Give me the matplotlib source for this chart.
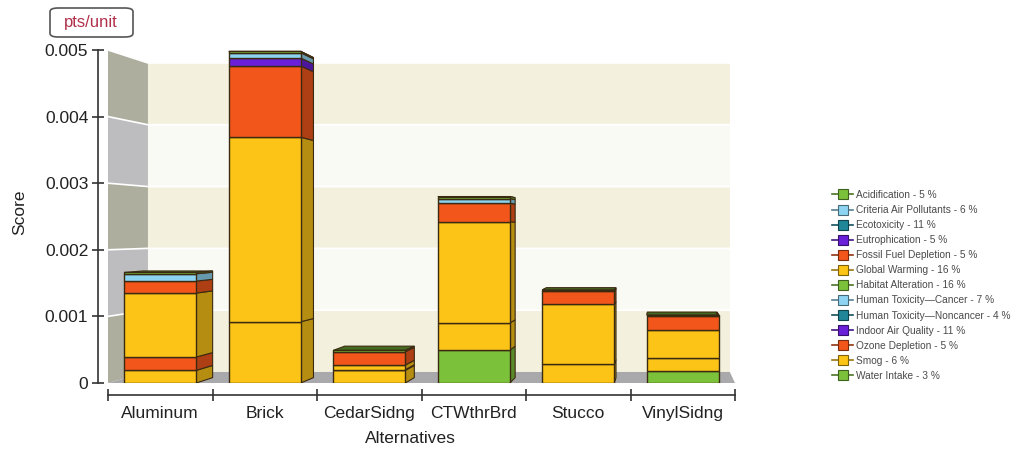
import matplotlib
matplotlib.use('Agg')
import matplotlib.pyplot as plt
from matplotlib.patches import Polygon, FancyBboxPatch
from matplotlib.lines import Line2D
from matplotlib.colors import to_rgb

plt.rcParams['font.family'] = ['Liberation Sans', 'DejaVu Sans']

alternatives = ['Aluminum', 'Brick', 'CedarSidng', 'CTWthrBrd', 'Stucco', 'VinylSidng']

# impact categories in legend order, with their weights (%)
categories = ['Acidification', 'Criteria Air Pollutants', 'Ecotoxicity', 'Eutrophication',
              'Fossil Fuel Depletion', 'Global Warming', 'Habitat Alteration',
              'Human Toxicity\u2014Cancer', 'Human Toxicity\u2014Noncancer',
              'Indoor Air Quality', 'Ozone Depletion', 'Smog', 'Water Intake']
weights = [5, 6, 11, 5, 5, 16, 16, 7, 4, 11, 5, 6, 3]
colors = ['#7cc13a', '#8dd4f2', '#1f8798', '#6a1fd8', '#f2561a', '#fcc416', '#7cc13a',
          '#8dd4f2', '#1f8798', '#6a1fd8', '#f2561a', '#fcc416', '#7cc13a']

# weighted scores per alternative, pts/unit
acidification = [0.00002, 0.00002, 0.00002, 0.00003, 0.00002, 0.00002]
criteria_air = [0.00011, 0.00008, 0.0, 0.00007, 0.0, 0.0]
ecotoxicity = [0.0, 0.0, 0.0, 0.0, 0.0, 0.0]
eutrophication = [0.0, 0.00012, 0.0, 0.0, 0.0, 0.0]
fossil_fuel = [0.00018, 0.00107, 0.00020, 0.00028, 0.00020, 0.00020]
global_warming = [0.00096, 0.00277, 0.00007, 0.00152, 0.00090, 0.00042]
habitat = [0.0, 0.0, 0.0, 0.0, 0.0, 0.0]
ht_cancer = [0.0, 0.0, 0.0, 0.0, 0.0, 0.0]
ht_noncancer = [0.0, 0.0, 0.0, 0.0, 0.0, 0.0]
indoor_air = [0.0, 0.0, 0.0, 0.0, 0.0, 0.0]
ozone = [0.00020, 0.0, 0.00001, 0.0, 0.0, 0.0]
smog = [0.00019, 0.00092, 0.00019, 0.00041, 0.00028, 0.00020]
water = [0.0, 0.0, 0.0, 0.00049, 0.0, 0.00018]

series = [acidification, criteria_air, ecotoxicity, eutrophication, fossil_fuel,
          global_warming, habitat, ht_cancer, ht_noncancer, indoor_air, ozone, smog, water]

yticks = [0, 0.001, 0.002, 0.003, 0.004, 0.005]
ytick_labels = ['0', '0.001', '0.002', '0.003', '0.004', '0.005']

W, H = 1015, 450
fig = plt.figure(figsize=(W / 100, H / 100), dpi=100)
ax = fig.add_axes([108 / W, 67 / H, 627 / W, 333 / H])
ax.set_xlim(-0.5, len(alternatives) - 0.5)
ax.set_ylim(0, 0.005)
ax.patch.set_visible(False)

# simple perspective: points pulled toward a vanishing point
vp = (4.81, 0.0023)
wall_s = 0.928
bar_s = 0.965


def proj(x, y, s):
    return (vp[0] + (x - vp[0]) * s, vp[1] + (y - vp[1]) * s)


def shade(c, f):
    r, g, b = to_rgb(c)
    return (r * f, g * f, b * f)


x0, x1 = -0.5, len(alternatives) - 0.5
band_back = ['#f3f1dd', '#fafaf5']
band_side = ['#aeae9f', '#bdbdc0']
for k in range(len(yticks) - 1):
    ya, yb = yticks[k], yticks[k + 1]
    back = [proj(x0, ya, wall_s), proj(x1, ya, wall_s), proj(x1, yb, wall_s), proj(x0, yb, wall_s)]
    ax.add_patch(Polygon(back, closed=True, fc=band_back[k % 2], ec='none', zorder=0))
    side = [(x0, ya), (x0, yb), proj(x0, yb, wall_s), proj(x0, ya, wall_s)]
    ax.add_patch(Polygon(side, closed=True, fc=band_side[k % 2], ec='none', zorder=0))
for yv in yticks[1:]:
    pa, pb, pc = (x0, yv), proj(x0, yv, wall_s), proj(x1, yv, wall_s)
    ax.plot([pa[0], pb[0], pc[0]], [pa[1], pb[1], pc[1]], color='white', lw=1.2,
            zorder=0.5, clip_on=False)

floor = [(x0, 0), (x1, 0), proj(x1, 0, wall_s), proj(x0, 0, wall_s)]
ax.add_patch(Polygon(floor, closed=True, fc='#a9a9ab', ec='none', zorder=1))

# stacked 3D bars, last legend entry at the bottom
width = 0.69
edge = '#3b2a12'
bottoms = [0.0] * len(alternatives)
top_color = [None] * len(alternatives)
for vals, col in zip(series[::-1], colors[::-1]):
    for i, v in enumerate(vals):
        if v <= 0:
            continue
        b = bottoms[i]
        xr = i + width / 2
        ax.bar(i, v, bottom=b, width=width, color=col, edgecolor=edge, linewidth=1.0, zorder=3)
        face = [(xr, b), (xr, b + v), proj(xr, b + v, bar_s), proj(xr, b, bar_s)]
        ax.add_patch(Polygon(face, closed=True, fc=shade(col, 0.72), ec=edge, lw=0.8, zorder=2.5))
        bottoms[i] = b + v
        top_color[i] = col

for i, t in enumerate(bottoms):
    xl, xr = i - width / 2, i + width / 2
    topf = [(xl, t), (xr, t), proj(xr, t, bar_s), proj(xl, t, bar_s)]
    ax.add_patch(Polygon(topf, closed=True, fc=shade(top_color[i], 0.55), ec=edge, lw=0.8, zorder=2))

# axes
for s in ['top', 'right']:
    ax.spines[s].set_visible(False)
ax.spines['left'].set_position(('outward', 7.2))
ax.spines['bottom'].set_position(('outward', 8.3))
ax.spines['bottom'].set_bounds(x0, x1)
for s in ['left', 'bottom']:
    ax.spines[s].set_color('#333333')
    ax.spines[s].set_linewidth(1.2)

ax.set_yticks(yticks)
ax.set_yticklabels(ytick_labels)
ax.tick_params(axis='y', direction='inout', length=8, width=1.2, color='#333333',
               labelsize=12.5, pad=3, labelcolor='#222222')

ax.set_xticks([i - 0.5 for i in range(len(alternatives) + 1)])
ax.set_xticklabels([])
ax.set_xticks(range(len(alternatives)), minor=True)
ax.set_xticklabels(alternatives, minor=True)
ax.tick_params(axis='x', which='major', direction='inout', length=8, width=1.2, color='#333333')
ax.tick_params(axis='x', which='minor', length=0, labelsize=12.5, pad=8, labelcolor='#222222')

ax.set_xlabel('Alternatives', fontsize=12.5, color='#222222')
ax.xaxis.set_label_coords(0.483, -0.143)

fig.text(20 / W, 1 - 212 / H, 'Score', rotation=90, ha='center', va='center',
         fontsize=12.5, color='#222222')

# unit badge
fig.patches.append(FancyBboxPatch((50 / W, 1 - 37 / H), 83 / W, 29 / H,
                                  boxstyle='round,pad=0,rounding_size=0.008',
                                  transform=fig.transFigure, fc='white', ec='#555555', lw=1.2))
fig.text(91 / W, 1 - 22 / H, 'pts/unit', ha='center', va='center', fontsize=12,
         color='#b0304a')

handles = [Line2D([0], [0], color=shade(c, 0.6), lw=1.2, marker='s', markersize=6.5,
                  markerfacecolor=c, markeredgecolor=shade(c, 0.5), markeredgewidth=0.8)
           for c in colors]
labels = [f'{n} - {w} %' for n, w in zip(categories, weights)]
fig.legend(handles, labels, loc='upper left', bbox_to_anchor=(832 / W, 1 - 190 / H),
           frameon=False, fontsize=7.3, labelspacing=0.5, handlelength=2.1,
           handletextpad=0.3, borderpad=0, borderaxespad=0, labelcolor='#4a4a4a')

fig.savefig('out.png', dpi=100)
